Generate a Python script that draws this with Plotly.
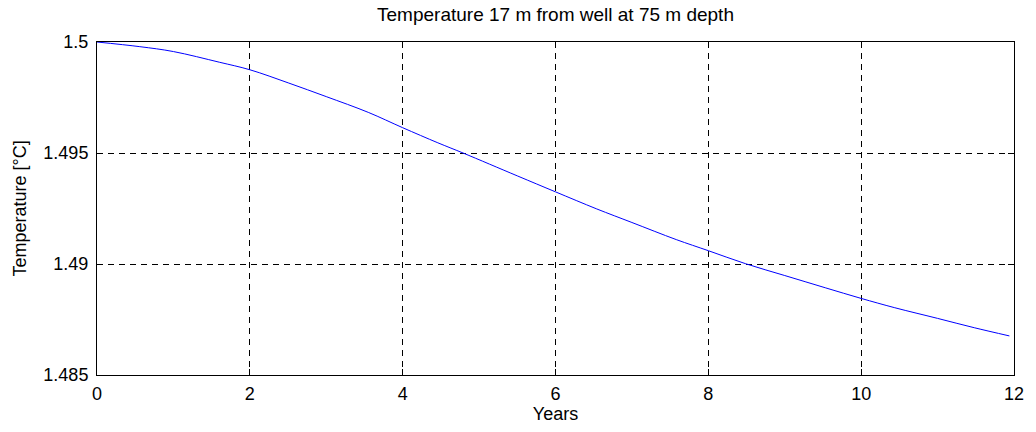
import plotly.graph_objects as go

years = [0.0, 0.56, 1.0, 1.6, 2.0, 2.51, 3.0, 3.55, 4.0, 4.46, 4.79, 5.5, 6.0, 6.54,
         7.0, 7.58, 8.0, 8.49, 9.0, 9.53, 10.0, 10.44, 11.0, 11.48, 11.94]
temperature = [1.5, 1.49979, 1.49957, 1.49909, 1.49875, 1.49815, 1.49754, 1.49683,
               1.49614, 1.49546, 1.4950, 1.49397, 1.49325, 1.49248, 1.49187, 1.49110,
               1.49060, 1.49001, 1.48948, 1.48893, 1.48845, 1.48803, 1.48755, 1.48713,
               1.48676]

x_ticks = [0, 2, 4, 6, 8, 10, 12]
y_ticks = [1.485, 1.49, 1.495, 1.5]
y_tick_text = ["1.485", "1.49", "1.495", "1.5"]

title_text = "Temperature 17 m from well at 75 m depth"
x_label = "Years"
y_label = "Temperature [°C]"

FONT = "Liberation Sans, Arial, sans-serif"
FS = 18

fig = go.Figure()
fig.add_trace(go.Scatter(
    x=years, y=temperature, mode="lines",
    line=dict(color="rgb(0,0,255)", width=1, shape="spline", smoothing=1.0),
    showlegend=False, hoverinfo="skip"))

axis_common = dict(
    showline=True, linecolor="black", linewidth=1, mirror="ticks",
    ticks="inside", ticklen=6, tickcolor="black", tickwidth=1,
    showgrid=True, gridcolor="black", gridwidth=1, griddash="6px,5px",
    zeroline=False,
    tickfont=dict(family=FONT, size=FS, color="black"),
)

fig.update_layout(
    width=1036, height=432,
    margin=dict(l=97, r=16, t=42, b=55),
    paper_bgcolor="white", plot_bgcolor="white",
    title=dict(text=title_text, x=0.5, xref="paper", y=1 - 14 / 432, yref="container",
               xanchor="center", yanchor="middle",
               font=dict(family=FONT, size=19, color="black")),
    xaxis=dict(range=[0, 12], tickvals=x_ticks, ticklabelstandoff=2,
               title=dict(text=x_label, font=dict(family=FONT, size=FS, color="black"), standoff=4),
               **axis_common),
    yaxis=dict(range=[1.485, 1.5], tickvals=y_ticks, ticktext=y_tick_text, ticklabelstandoff=4,
               title=dict(text=y_label, font=dict(family=FONT, size=FS, color="black"), standoff=12),
               **axis_common),
)

fig.write_html("out.html")
